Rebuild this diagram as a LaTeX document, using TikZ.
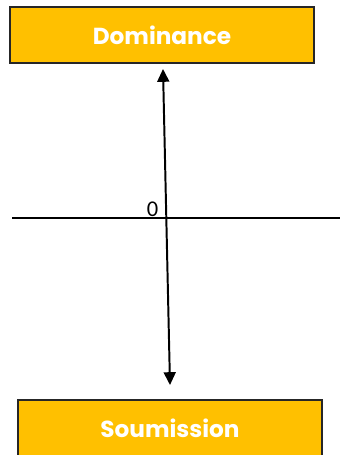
\documentclass[tikz,border=0pt]{standalone}
\usepackage{fontspec}
\setmainfont{Carlito}
\newfontfamily\boxfont{Poppins}
\usetikzlibrary{arrows.meta}
\definecolor{gold}{HTML}{FFC000}
\tikzset{
  pole/.style={rectangle, draw=black!85, fill=gold, line width=1.1pt,
               minimum width=304*0.025cm, minimum height=56*0.025cm,
               text=white, font=\boxfont\bfseries\fontsize{16.5}{18}\selectfont},
  axis/.style={line width=0.8pt, draw=black},
  span/.style={{Triangle[length=3.2mm,width=3mm]}-{Triangle[length=3.2mm,width=3mm]}, line width=1.4pt}
}
\begin{document}
\begin{tikzpicture}[x=0.025cm,y=-0.025cm]
\useasboundingbox (0,0) rectangle (340,455);
\clip (0,0) rectangle (340,455);
\node[pole] (dom) at (162,35) {\raisebox{-1pt}{Dominance}};
\node[pole] (sou) at (170,428) {\raisebox{-1pt}{Soumission}};
\coordinate (left) at (12,218);
\coordinate (right) at (340,218);
\coordinate (top) at (163,69);
\coordinate (bot) at (170,385);
\draw[axis] (left) -- (right);
\draw[span] (top) -- (bot);
\node[font=\fontsize{16}{17}\selectfont, anchor=south east, inner sep=1pt] (zero) at (160,218) {0};
\end{tikzpicture}
\end{document}
